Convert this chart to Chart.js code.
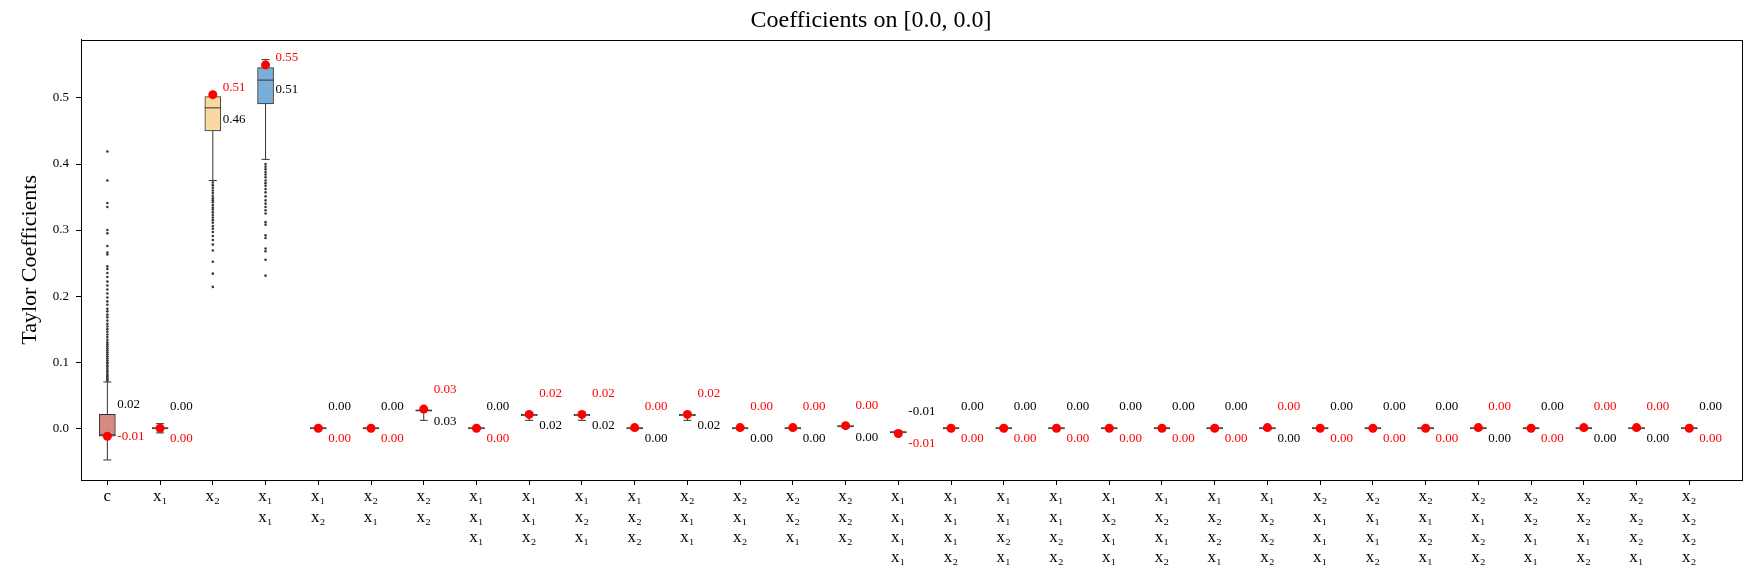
<!DOCTYPE html>
<html>
<head>
<meta charset="utf-8">
<script src="https://cdn.jsdelivr.net/npm/chart.js@4/dist/chart.umd.min.js"></script>
<style>
  html, body { margin: 0; background: #fff; }
  #wrap { width: 1760px; height: 576px; }
</style>
</head>
<body>
<div id="wrap"><canvas id="coefChart"></canvas></div>
<script>
const categories = [
  ['c'], ['x₁'], ['x₂'],
  ['x₁', 'x₁'], ['x₁', 'x₂'], ['x₂', 'x₁'], ['x₂', 'x₂'],
  ['x₁', 'x₁', 'x₁'], ['x₁', 'x₁', 'x₂'], ['x₁', 'x₂', 'x₁'], ['x₁', 'x₂', 'x₂'],
  ['x₂', 'x₁', 'x₁'], ['x₂', 'x₁', 'x₂'], ['x₂', 'x₂', 'x₁'], ['x₂', 'x₂', 'x₂'],
  ['x₁', 'x₁', 'x₁', 'x₁'], ['x₁', 'x₁', 'x₁', 'x₂'], ['x₁', 'x₁', 'x₂', 'x₁'], ['x₁', 'x₁', 'x₂', 'x₂'],
  ['x₁', 'x₂', 'x₁', 'x₁'], ['x₁', 'x₂', 'x₁', 'x₂'], ['x₁', 'x₂', 'x₂', 'x₁'], ['x₁', 'x₂', 'x₂', 'x₂'],
  ['x₂', 'x₁', 'x₁', 'x₁'], ['x₂', 'x₁', 'x₁', 'x₂'], ['x₂', 'x₁', 'x₂', 'x₁'], ['x₂', 'x₁', 'x₂', 'x₂'],
  ['x₂', 'x₂', 'x₁', 'x₁'], ['x₂', 'x₂', 'x₁', 'x₂'], ['x₂', 'x₂', 'x₂', 'x₁'], ['x₂', 'x₂', 'x₂', 'x₂']
];

// box statistics per coefficient
const q1 = [-0.012, -0.001, 0.450, 0.491, -0.001, -0.001, 0.026, -0.001, 0.019, 0.019, -0.001, 0.019, -0.001, -0.001, 0.002, -0.007,
  -0.001, -0.001, -0.001, -0.001, -0.001, -0.001, -0.001, -0.001, -0.001, -0.001, -0.001, -0.001, -0.001, -0.001, -0.001];
const medians = [-0.010, 0, 0.485, 0.527, 0, 0, 0.027, 0, 0.020, 0.020, 0, 0.020, 0, 0, 0.003, -0.006,
  0, 0, 0, 0, 0, 0, 0, 0, 0, 0, 0, 0, 0, 0, 0];
const q3 = [0.021, 0.001, 0.502, 0.546, 0.001, 0.001, 0.028, 0.001, 0.021, 0.021, 0.001, 0.021, 0.001, 0.001, 0.004, -0.005,
  0.001, 0.001, 0.001, 0.001, 0.001, 0.001, 0.001, 0.001, 0.001, 0.001, 0.001, 0.001, 0.001, 0.001, 0.001];
const whiskerLow = [-0.048, -0.007, 0.375, 0.407, -0.002, -0.002, 0.012, -0.002, 0.012, 0.012, -0.002, 0.012, -0.002, -0.002, 0.001, -0.008,
  -0.002, -0.002, -0.002, -0.002, -0.002, -0.002, -0.002, -0.002, -0.002, -0.002, -0.002, -0.002, -0.002, -0.002, -0.002];
const whiskerHigh = [0.070, 0.007, 0.503, 0.558, 0.002, 0.002, 0.029, 0.002, 0.022, 0.022, 0.002, 0.022, 0.002, 0.002, 0.005, -0.004,
  0.002, 0.002, 0.002, 0.002, 0.002, 0.002, 0.002, 0.002, 0.002, 0.002, 0.002, 0.002, 0.002, 0.002, 0.002];

// mean of the samples (black label) and the true coefficient (red dot)
const means = [0.021, 0.001, 0.462, 0.508, 0.001, 0.001, 0.026, 0.001, 0.019, 0.019, 0.000, 0.019, 0.000, 0.000, 0.002, -0.006,
  0.001, 0.001, 0.001, 0.001, 0.001, 0.001, 0.000, 0.001, 0.001, 0.001, 0.000, 0.001, 0.000, 0.000, 0.001];
const trueVals = [-0.012, 0.000, 0.505, 0.550, 0.000, 0.000, 0.029, 0.000, 0.021, 0.021, 0.001, 0.021, 0.001, 0.001, 0.004, -0.008,
  0.000, 0.000, 0.000, 0.000, 0.000, 0.000, 0.001, 0.000, 0.000, 0.000, 0.001, 0.000, 0.001, 0.001, 0.000];

// fliers
const outliersC = [0.072, 0.074, 0.076, 0.078, 0.080, 0.082, 0.085, 0.087, 0.090, 0.093, 0.095, 0.098, 0.100, 0.103, 0.106,
  0.109, 0.112, 0.115, 0.118, 0.121, 0.124, 0.127, 0.130, 0.134, 0.138, 0.142, 0.146, 0.150, 0.154, 0.158, 0.163, 0.168,
  0.172, 0.177, 0.181, 0.187, 0.192, 0.198, 0.204, 0.210, 0.216, 0.222, 0.229, 0.235, 0.241, 0.245, 0.263, 0.266, 0.276,
  0.295, 0.300, 0.335, 0.341, 0.375, 0.419];
const outliersX2 = [0.372, 0.368, 0.364, 0.360, 0.356, 0.352, 0.348, 0.345, 0.342, 0.338, 0.334, 0.331, 0.327, 0.323, 0.319,
  0.315, 0.311, 0.306, 0.302, 0.297, 0.291, 0.285, 0.278, 0.269, 0.252, 0.234, 0.214];
const outliersX1X1 = [0.400, 0.396, 0.392, 0.388, 0.384, 0.380, 0.375, 0.371, 0.367, 0.362, 0.357, 0.351, 0.345, 0.340, 0.335,
  0.330, 0.325, 0.312, 0.308, 0.292, 0.288, 0.272, 0.268, 0.255, 0.231];

const yTicks = [0, 0.1, 0.2, 0.3, 0.4, 0.5];

const boxColors = ['#d68a80', '#9fc5e0', '#f9d9a1', '#79aed6', '#b7d7a8', '#e8b4c8', '#c9c9c9', '#f4c48a'];
const serif = "'Liberation Serif', 'DejaVu Serif', serif";

const flierPoints = [];
outliersC.forEach(v => flierPoints.push({x: 0, y: v}));
outliersX2.forEach(v => flierPoints.push({x: 2, y: v}));
outliersX1X1.forEach(v => flierPoints.push({x: 3, y: v}));

const boxExtras = {
  id: 'boxExtras',
  afterDatasetDraw(chart, args) {
    if (args.index !== 0) return;
    const ctx = chart.ctx;
    const xs = chart.scales.x, ys = chart.scales.y;
    const half = 8, cap = 4;
    ctx.save();
    ctx.strokeStyle = '#333';
    ctx.lineWidth = 1;
    categories.forEach((_, i) => {
      const x = xs.getPixelForValue(i);
      const yl = ys.getPixelForValue(whiskerLow[i]);
      const yh = ys.getPixelForValue(whiskerHigh[i]);
      const y1 = ys.getPixelForValue(q1[i]);
      const y3 = ys.getPixelForValue(q3[i]);
      const ym = ys.getPixelForValue(medians[i]);
      ctx.beginPath();
      ctx.moveTo(x, y1); ctx.lineTo(x, yl);
      ctx.moveTo(x, y3); ctx.lineTo(x, yh);
      ctx.moveTo(x - cap, yl); ctx.lineTo(x + cap, yl);
      ctx.moveTo(x - cap, yh); ctx.lineTo(x + cap, yh);
      ctx.moveTo(x - half, ym); ctx.lineTo(x + half, ym);
      ctx.stroke();
    });
    ctx.restore();
  },
  afterDatasetsDraw(chart) {
    const ctx = chart.ctx;
    const xs = chart.scales.x, ys = chart.scales.y;
    ctx.save();
    ctx.font = '13px ' + serif;
    ctx.textAlign = 'left';
    ctx.textBaseline = 'middle';
    categories.forEach((_, i) => {
      const x = xs.getPixelForValue(i) + 10;
      const blackFirst = means[i] > trueVals[i];
      const upVal = blackFirst ? means[i] : trueVals[i];
      const lowVal = blackFirst ? trueVals[i] : means[i];
      let yu = ys.getPixelForValue(upVal) - 5;
      let yl = ys.getPixelForValue(lowVal) - 5;
      if (yl - yu < 32) {
        const mid = (yu + yl) / 2;
        yu = mid - 16;
        yl = mid + 16;
      }
      ctx.fillStyle = blackFirst ? '#000' : 'red';
      ctx.fillText(upVal.toFixed(2), x, yu);
      ctx.fillStyle = blackFirst ? 'red' : '#000';
      ctx.fillText(lowVal.toFixed(2), x, yl);
    });
    ctx.restore();
  },
  afterDraw(chart) {
    const {ctx, chartArea: a} = chart;
    ctx.save();
    ctx.strokeStyle = '#000';
    ctx.lineWidth = 1;
    ctx.strokeRect(Math.round(a.left) + 0.5, Math.round(a.top) + 0.5, Math.round(a.right - a.left), Math.round(a.bottom - a.top));
    ctx.restore();
  }
};

new Chart(document.getElementById('coefChart'), {
  type: 'bar',
  data: {
    datasets: [
      {
        type: 'bar',
        data: categories.map((_, i) => ({x: i, y: [q1[i], q3[i]]})),
        backgroundColor: categories.map((_, i) => boxColors[i % boxColors.length]),
        borderColor: '#333',
        borderWidth: 1,
        borderSkipped: false,
        barThickness: 16,
        grouped: false,
        order: 3
      },
      {
        type: 'scatter',
        data: flierPoints,
        pointRadius: 1.3,
        pointBackgroundColor: '#3a3a3a',
        pointBorderWidth: 0,
        order: 2
      },
      {
        type: 'scatter',
        data: categories.map((_, i) => ({x: i, y: trueVals[i]})),
        pointRadius: 4.5,
        pointBackgroundColor: 'red',
        pointBorderWidth: 0,
        order: 0
      }
    ]
  },
  options: {
    responsive: true,
    maintainAspectRatio: false,
    animation: false,
    devicePixelRatio: 1,
    layout: { padding: { left: 0, right: 18, top: 0, bottom: 0 } },
    plugins: {
      legend: { display: false },
      tooltip: { enabled: false },
      title: {
        display: true,
        text: 'Coefficients on [0.0, 0.0]',
        color: '#000',
        font: { family: serif, size: 24, weight: 'normal' },
        padding: { top: 6, bottom: 5 }
      }
    },
    scales: {
      x: {
        type: 'linear',
        min: -0.5,
        max: 31,
        offset: false,
        afterBuildTicks: scale => { scale.ticks = categories.map((_, i) => ({value: i})); },
        afterFit: scale => { scale.height = 96; },
        grid: { display: true, offset: false, drawOnChartArea: false, drawTicks: true, tickLength: 5, color: '#000' },
        border: { display: true, color: '#000' },
        ticks: {
          autoSkip: false,
          maxRotation: 0,
          padding: 2,
          color: '#000',
          font: { family: serif, size: 17, lineHeight: 1.18 },
          callback: v => categories[v]
        }
      },
      y: {
        min: -0.0783,
        max: 0.588,
        afterBuildTicks: scale => { scale.ticks = yTicks.map(v => ({value: v})); },
        afterFit: scale => { scale.width = 81; },
        grid: { display: true, drawOnChartArea: false, drawTicks: true, tickLength: 5, color: '#000' },
        border: { display: true, color: '#000' },
        ticks: {
          padding: 7,
          color: '#000',
          font: { family: serif, size: 13 },
          callback: v => v.toFixed(1)
        },
        title: {
          display: true,
          text: 'Taylor Coefficients',
          color: '#000',
          font: { family: serif, size: 22 },
          padding: { top: 17, bottom: 0 }
        }
      }
    }
  },
  plugins: [boxExtras]
});
</script>
</body>
</html>
